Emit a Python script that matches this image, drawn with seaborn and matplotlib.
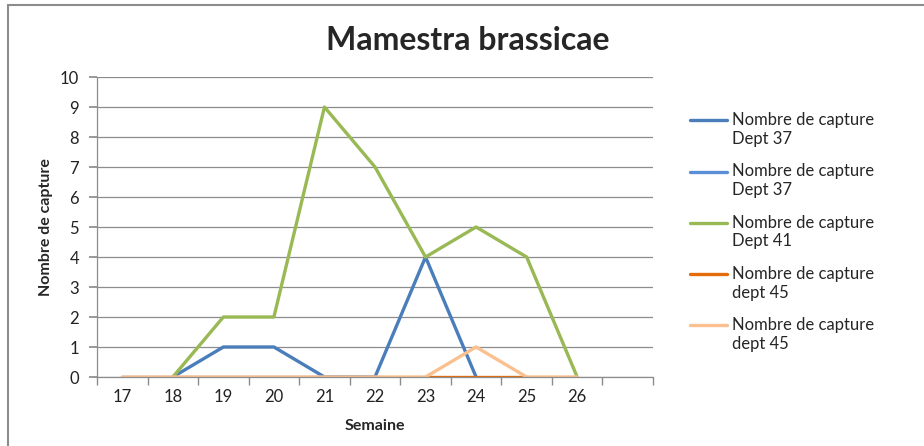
import matplotlib
matplotlib.use("Agg")
import numpy as np
import pandas as pd
import matplotlib.pyplot as plt
import seaborn as sns
from matplotlib.patches import Rectangle

# Data
weeks = ["17", "18", "19", "20", "21", "22", "23", "24", "25", "26", ""]
dept37_a = [np.nan, 0, 1, 1, 0, 0, 4, 0, np.nan, np.nan, np.nan]
dept37_b = [0, 0, 0, 0, 0, 0, np.nan, np.nan, np.nan, np.nan, np.nan]
dept41 = [np.nan, 0, 2, 2, 9, 7, 4, 5, 4, 0, np.nan]
dept45_a = [np.nan, np.nan, np.nan, np.nan, np.nan, np.nan, 0, 0, 0, np.nan, np.nan]
dept45_b = [0, 0, 0, 0, 0, 0, 0, 1, 0, 0, np.nan]

labels = ["Nombre de capture\nDept 37", "Nombre de capture\nDept 37",
          "Nombre de capture\nDept 41", "Nombre de capture\ndept 45",
          "Nombre de capture\ndept 45"]
colors = ["#4A7EBB", "#5A8FD6", "#98B954", "#E46C0A", "#FAC090"]
series = [dept37_a, dept37_b, dept41, dept45_a, dept45_b]

sns.set_theme(style="white")
plt.rcParams["font.family"] = ["Lato", "DejaVu Sans"]

fig = plt.figure(figsize=(9.24, 4.46), dpi=100)
ax = fig.add_axes([97 / 924, 1 - 377 / 446, (653 - 97) / 924, 300 / 446])

x = np.arange(len(weeks))
for vals, lab, col in zip(series, labels, colors):
    df = pd.DataFrame({"x": x, "y": vals}).dropna()
    sns.lineplot(data=df, x="x", y="y", ax=ax, color=col, linewidth=2.4,
                 label=lab, sort=False)

ax.set_xlim(-0.5, len(weeks) - 0.5)
ax.set_ylim(0, 10)
ax.set_yticks(range(0, 11))
ax.set_xticks(x)
ax.set_xticklabels(weeks)
ax.set_xticks(np.arange(-0.5, len(weeks)), minor=True)
ax.tick_params(axis="x", which="major", length=0, pad=9, labelsize=12, colors="#222222")
ax.tick_params(axis="x", which="minor", length=6, color="#8c8c8c", bottom=True)
ax.tick_params(axis="y", length=6, color="#8c8c8c", left=True, pad=7,
               labelsize=12, labelcolor="#222222")
ax.grid(axis="y", color="#8c8c8c", linewidth=0.9)
ax.set_axisbelow(True)
for s in ["top", "right"]:
    ax.spines[s].set_visible(False)
for s in ["left", "bottom"]:
    ax.spines[s].set_color("#8c8c8c")
    ax.spines[s].set_linewidth(0.9)

ax.set_xlabel("Semaine", fontsize=11.5, fontweight="bold", labelpad=10)
ax.set_ylabel("Nombre de capture", fontsize=11.5, fontweight="bold", labelpad=5)
fig.text(468 / 924, 1 - 40 / 446, "Mamestra brassicae", fontsize=23,
         fontweight="bold", ha="center", va="center")

leg = ax.legend(loc="upper left", bbox_to_anchor=(1.055, 0.905), frameon=False,
                fontsize=12, handlelength=2.2, handletextpad=0.3,
                labelspacing=1.0, borderaxespad=0)
for h in leg.get_lines():
    h.set_linewidth(2.4)
    h.set_ydata(np.asarray(h.get_ydata()) + 7)

fig.patches.append(Rectangle((8 / 924, -0.1), 1.2, 1 - 5 / 446 + 0.1,
                             transform=fig.transFigure, fill=False,
                             edgecolor="#8c8c8c", linewidth=1.5))

fig.savefig("out.png", dpi=100)
